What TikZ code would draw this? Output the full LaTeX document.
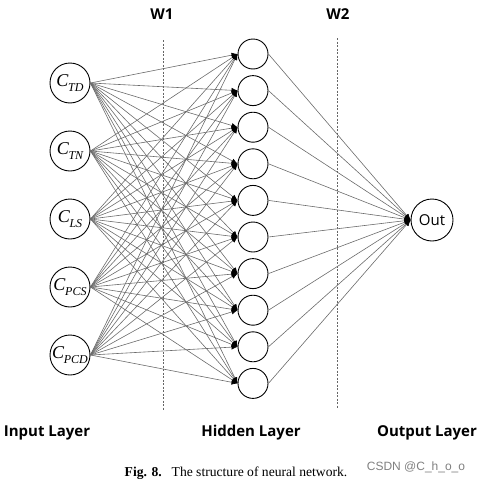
\documentclass[tikz,border=0pt]{standalone}
\usepackage{fontspec}
\setsansfont{Open Sans}
\newfontfamily\capfont{Liberation Serif}
\newfontfamily\markfont{Liberation Sans}
\usetikzlibrary{positioning, arrows.meta}
\newcommand{\cname}[1]{{\capfont\itshape C\kern-0.3pt\raisebox{-0.25em}{\fontsize{12}{12}\selectfont #1}}}
\tikzset{
  neuron/.style={circle, draw, line width=0.9pt, minimum size=40pt, inner sep=0pt},
  inneuron/.style={neuron, font=\fontsize{18}{20}\selectfont},
  hidneuron/.style={neuron, minimum size=30pt},
  wire/.style={draw=black!58, line width=0.6pt, -{Latex[black,length=6pt,width=5pt]}},
  wdash/.style={black!60, line width=0.5pt, dash pattern=on 2pt off 1.5pt},
  layertitle/.style={font=\sffamily\bfseries\fontsize{15}{18}\selectfont},
}

\begin{document}
\begin{tikzpicture}[x=1pt, y=-1pt, on grid, node distance=68pt]
  \useasboundingbox (0,0) rectangle (480,482);

  % weight columns
  \coordinate (w1top) at (163,40);
  \coordinate (w1bot) at (163,410);
  \coordinate (w2top) at (337,38);
  \coordinate (w2bot) at (337,408);
  \draw[wdash] (w1top) -- (w1bot);
  \draw[wdash] (w2top) -- (w2bot);
  \node[layertitle] (w1) at (162,14) {W1};
  \node[layertitle] (w2) at (338,14) {W2};

  % input layer
  \node[inneuron] (ctd) at (70,83) {\cname{TD}};
  \node[inneuron] (ctn) [below=of ctd] {\cname{TN}};
  \node[inneuron] (cls) [below=of ctn] {\cname{LS}};
  \node[inneuron] (cpcs) [below=of cls] {\cname{PCS}};
  \node[inneuron] (cpcd) [below=of cpcs] {\cname{PCD}};

  % hidden layer
  \foreach \i in {1,...,10}
    \node[hidneuron] (h\i) at (253, 17.4+36.6*\i) {};

  % output layer
  \node[neuron, minimum size=42pt, font=\sffamily\fontsize{15}{17}\selectfont] (out) at (432,220) {Out};

  \foreach \a in {ctd,ctn,cls,cpcs,cpcd}
    \foreach \i in {1,...,10}
      \draw[wire] (\a.east) -- (h\i.west);
  \foreach \i in {1,...,10}
    \draw[wire] (h\i.east) -- (out.west);

  \node[layertitle] (inlab) at (47,433) {Input Layer};
  \node[layertitle] (hidlab) at (251,433) {Hidden Layer};
  \node[layertitle] (outlab) at (427,433) {Output Layer};

  \node[font=\capfont\fontsize{13.6}{15}\selectfont] (caption) at (236,473)
    {\textbf{Fig. 8.}\hspace{0.4em} The structure of neural network.};
  \node[font=\markfont\fontsize{12}{14}\selectfont, text=black!50] (mark) at (416,467)
    {CSDN @C\_h\_o\_o};
\end{tikzpicture}
\end{document}
